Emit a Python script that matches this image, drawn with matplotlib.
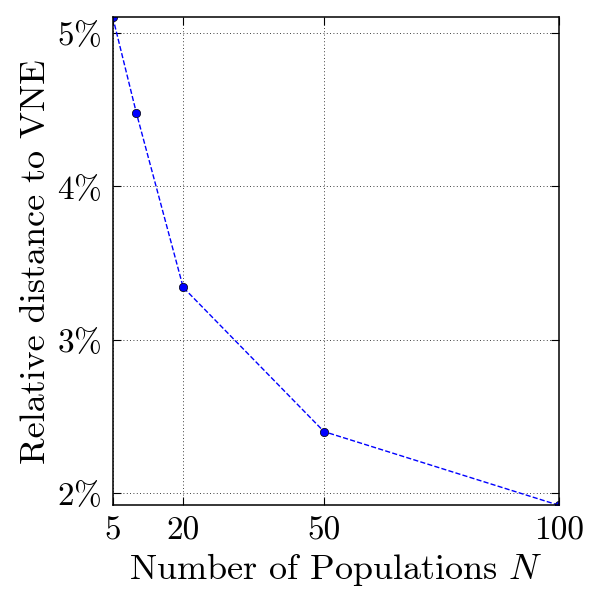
import matplotlib
matplotlib.use("Agg")
from matplotlib import pyplot as plt

# data (relative distance in %)
populations = [5, 10, 20, 50, 100]
rel_distance = [5.10, 4.48, 3.34, 2.40, 1.92]
xticks = [5, 20, 50, 100]
yticks = [2, 3, 4, 5]

plt.rcParams['font.family'] = 'serif'
plt.rcParams['font.serif'] = ['cmr10']
plt.rcParams['mathtext.fontset'] = 'cm'
plt.rcParams['axes.unicode_minus'] = False
plt.rcParams['axes.formatter.use_mathtext'] = True

fig = plt.figure(figsize=(6, 6), dpi=100)
ax = fig.add_axes([0.188, 0.158, 0.743, 0.813])
ax.plot(populations, rel_distance, 'b--o', linewidth=1, markersize=6,
        markeredgecolor='k', markeredgewidth=0.5)
ax.set_xlim(min(populations), max(populations))
ax.set_ylim(min(rel_distance), max(rel_distance))
ax.set_xticks(xticks)
ax.set_xticklabels([str(t) for t in xticks])
ax.set_yticks(yticks)
ax.set_yticklabels([r'$%d\%%$' % t for t in yticks])
ax.tick_params(direction='in', labelsize=24, top=True, right=True, length=6, pad=8)
ax.grid(True, linestyle=(0, (1, 3)), color='k', linewidth=0.6)
for s in ax.spines.values():
    s.set_linewidth(1.1)
ax.set_xlabel(r'Number of Populations $N$', fontsize=26, labelpad=4)
ax.set_ylabel('Relative distance to VNE', fontsize=26)
fig.savefig('out.png', dpi=100)
